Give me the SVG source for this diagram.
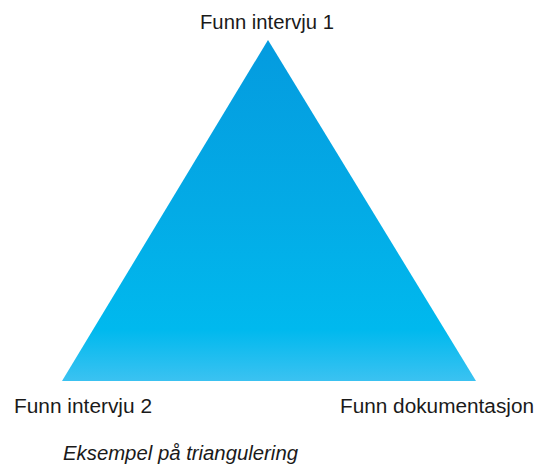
<svg xmlns="http://www.w3.org/2000/svg" width="545" height="464" viewBox="0 0 545 464">
<defs>
<linearGradient id="g" x1="0" y1="40" x2="0" y2="381" gradientUnits="userSpaceOnUse">
<stop offset="0" stop-color="#049bdf"/>
<stop offset="0.5" stop-color="#03abe6"/>
<stop offset="0.85" stop-color="#00b9ee"/>
<stop offset="1" stop-color="#3bc2f1"/>
</linearGradient>
<style>
.t{font-family:"Liberation Sans",Arial,sans-serif;font-size:20px;fill:#1a1a1a}
.c{font-family:"Liberation Sans",Arial,sans-serif;font-size:20px;font-style:italic;fill:#1a1a1a}
</style>
</defs>
<rect width="545" height="464" fill="#ffffff"/>
<g id="triangle">
<polygon points="268,40 476,381 62,381" fill="url(#g)"/>
</g>
<g id="label-top"><text class="t" x="267" y="29" text-anchor="middle" textLength="134" lengthAdjust="spacingAndGlyphs">Funn intervju 1</text></g>
<g id="label-left"><text class="t" x="14" y="413" textLength="138" lengthAdjust="spacingAndGlyphs">Funn intervju 2</text></g>
<g id="label-right"><text class="t" x="534" y="413" text-anchor="end" textLength="194" lengthAdjust="spacingAndGlyphs">Funn dokumentasjon</text></g>
<g id="caption"><text class="c" x="63" y="460" textLength="235" lengthAdjust="spacingAndGlyphs">Eksempel på triangulering</text></g>
<g id="connectors"></g>
</svg>
